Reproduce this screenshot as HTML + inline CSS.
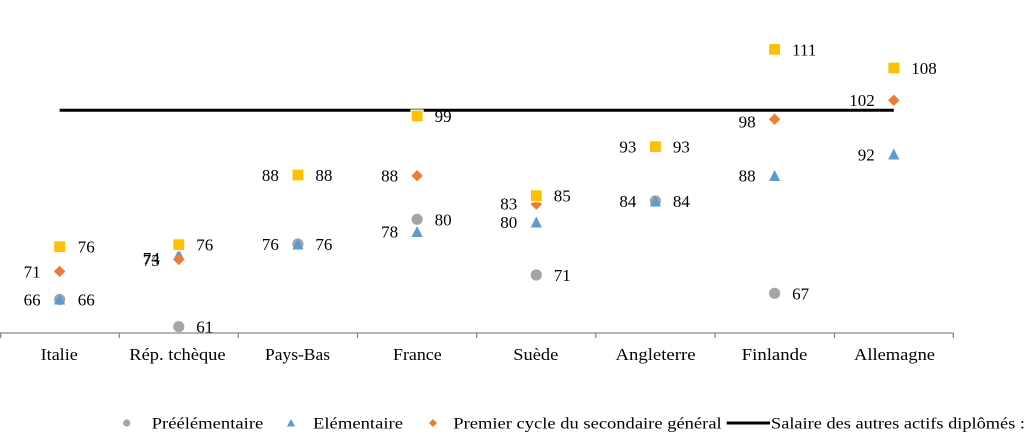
<!DOCTYPE html>
<html><head><meta charset="utf-8"><style>
html,body{margin:0;padding:0;background:#fff;}
svg{display:block;}
text{font-family:"Liberation Serif",serif;fill:#000;}
</style></head><body>
<svg width="1030" height="442" viewBox="0 0 1030 442" xmlns="http://www.w3.org/2000/svg">
<!-- axis -->
<line x1="0" y1="333" x2="953.5" y2="333" stroke="#8a8a8a" stroke-width="1.3"/>
<g stroke="#8a8a8a" stroke-width="1.3">
<line x1="0.7" y1="333" x2="0.7" y2="338"/>
<line x1="119.2" y1="333" x2="119.2" y2="338"/>
<line x1="238.3" y1="333" x2="238.3" y2="338"/>
<line x1="357.5" y1="333" x2="357.5" y2="338"/>
<line x1="476.7" y1="333" x2="476.7" y2="338"/>
<line x1="595.8" y1="333" x2="595.8" y2="338"/>
<line x1="715" y1="333" x2="715" y2="338"/>
<line x1="834.5" y1="333" x2="834.5" y2="338"/>
<line x1="953.3" y1="333" x2="953.3" y2="338"/>
</g>
<!-- category labels -->
<g font-size="17">
<text x="40.7" y="360" textLength="37" lengthAdjust="spacingAndGlyphs">Italie</text>
<text x="129.3" y="360" textLength="96.3" lengthAdjust="spacingAndGlyphs">Rép. tchèque</text>
<text x="265" y="360" textLength="65" lengthAdjust="spacingAndGlyphs">Pays-Bas</text>
<text x="393" y="360" textLength="48.7" lengthAdjust="spacingAndGlyphs">France</text>
<text x="513.3" y="360" textLength="45" lengthAdjust="spacingAndGlyphs">Suède</text>
<text x="615.5" y="360" textLength="80" lengthAdjust="spacingAndGlyphs">Angleterre</text>
<text x="741.7" y="360" textLength="65.6" lengthAdjust="spacingAndGlyphs">Finlande</text>
<text x="854" y="360" textLength="81" lengthAdjust="spacingAndGlyphs">Allemagne</text>
</g>

<!-- data labels -->
<g font-size="17">
<!-- Italie -->
<text x="77.7" y="252.5">76</text>
<text x="40.6" y="277.5" text-anchor="end">71</text>
<text x="40.6" y="305.5" text-anchor="end">66</text>
<text x="77.7" y="305.5">66</text>
<!-- Rep tcheque -->
<text x="196.3" y="250.5">76</text>
<text x="159.8" y="264" text-anchor="end">74</text>
<text x="159.8" y="266" text-anchor="end">73</text>
<text x="196.3" y="332.5">61</text>
<!-- Pays-Bas -->
<text x="278.9" y="181" text-anchor="end">88</text>
<text x="315.4" y="181">88</text>
<text x="278.9" y="250" text-anchor="end">76</text>
<text x="315.4" y="250">76</text>
<!-- France -->
<text x="434.6" y="122">99</text>
<text x="398.1" y="181.5" text-anchor="end">88</text>
<text x="434.6" y="225.3">80</text>
<text x="398.1" y="237.3" text-anchor="end">78</text>
<!-- Suede -->
<text x="553.8" y="201.5">85</text>
<text x="517.3" y="209.5" text-anchor="end">83</text>
<text x="517.3" y="228" text-anchor="end">80</text>
<text x="553.8" y="281">71</text>
<!-- Angleterre -->
<text x="636.4" y="152.5" text-anchor="end">93</text>
<text x="672.9" y="152.5">93</text>
<text x="636.4" y="207" text-anchor="end">84</text>
<text x="672.9" y="207">84</text>
<!-- Finlande -->
<text x="792.1" y="55.5">111</text>
<text x="755.6" y="127.5" text-anchor="end">98</text>
<text x="755.6" y="181.5" text-anchor="end">88</text>
<text x="792.1" y="299.3">67</text>
<!-- Allemagne -->
<text x="911.3" y="74">108</text>
<text x="874.8" y="106" text-anchor="end">102</text>
<text x="874.8" y="160.3" text-anchor="end">92</text>
</g>

<!-- line series -->
<line x1="59.6" y1="110.3" x2="893.8" y2="110.3" stroke="#000" stroke-width="3"/>

<!-- Preelementaire circles -->
<g fill="#a5a5a5">
<circle cx="59.6" cy="299.5" r="5.6"/>
<circle cx="178.8" cy="326.7" r="5.6"/>
<circle cx="297.9" cy="244" r="5.6"/>
<circle cx="417.1" cy="219.3" r="5.6"/>
<circle cx="536.3" cy="275" r="5.6"/>
<circle cx="655.4" cy="201" r="5.6"/>
<circle cx="774.6" cy="293.3" r="5.6"/>
</g>
<!-- Elementaire triangles -->
<g fill="#5b9bd5">
<polygon points="59.6,293.5 65.2,304.5 54,304.5"/>
<polygon points="178.8,249 184.4,260 173.2,260"/>
<polygon points="297.9,238.5 303.5,249.5 292.3,249.5"/>
<polygon points="417.1,226 422.7,237 411.5,237"/>
<polygon points="536.3,216.5 541.9,227.5 530.7,227.5"/>
<polygon points="655.4,195.5 661,206.5 649.8,206.5"/>
<polygon points="774.6,170 780.2,181 769,181"/>
<polygon points="893.8,148.5 899.4,159.5 888.2,159.5"/>
</g>
<!-- Premier cycle diamonds -->
<g fill="#ed7d31">
<polygon points="59.6,265.7 65.3,271.4 59.6,277.1 53.9,271.4"/>
<polygon points="178.8,253.8 184.5,259.5 178.8,265.2 173.1,259.5"/>
<polygon points="297.9,169.3 303.6,175 297.9,180.7 292.2,175"/>
<polygon points="417.1,170 422.8,175.7 417.1,181.4 411.4,175.7"/>
<polygon points="536.3,198.5 542,204.2 536.3,209.9 530.6,204.2"/>
<polygon points="655.4,141 661.1,146.7 655.4,152.4 649.7,146.7"/>
<polygon points="774.6,113.5 780.3,119.2 774.6,124.9 768.9,119.2"/>
<polygon points="893.8,94.6 899.5,100.3 893.8,106 888.1,100.3"/>
</g>
<!-- Second cycle squares -->
<g fill="#ffc000" stroke="#fff" stroke-width="1.2">
<rect x="53.6" y="240.7" width="12" height="12"/>
<rect x="172.8" y="238.7" width="12" height="12"/>
<rect x="291.9" y="169" width="12" height="12"/>
<rect x="411.1" y="110" width="12" height="12"/>
<rect x="530.3" y="189.7" width="12" height="12"/>
<rect x="649.4" y="140.7" width="12" height="12"/>
<rect x="768.6" y="43.3" width="12" height="12"/>
<rect x="887.8" y="62" width="12" height="12"/>
</g>

<!-- legend -->
<circle cx="126.7" cy="423" r="3.6" fill="#a5a5a5"/>
<text x="151.7" y="428.3" font-size="16" textLength="111.6" lengthAdjust="spacingAndGlyphs">Préélémentaire</text>
<polygon points="291,419 295,426.5 287,426.5" fill="#5b9bd5"/>
<text x="313" y="428.3" font-size="16" textLength="90" lengthAdjust="spacingAndGlyphs">Elémentaire</text>
<polygon points="433,419 437,423 433,427 429,423" fill="#ed7d31"/>
<text x="453.3" y="428.3" font-size="16" textLength="268.4" lengthAdjust="spacingAndGlyphs">Premier cycle du secondaire général</text>
<line x1="726.7" y1="423" x2="770" y2="423" stroke="#000" stroke-width="3"/>
<text x="771" y="428.3" font-size="16" textLength="254" lengthAdjust="spacingAndGlyphs">Salaire des autres actifs diplômés :</text>
</svg>
</body></html>
